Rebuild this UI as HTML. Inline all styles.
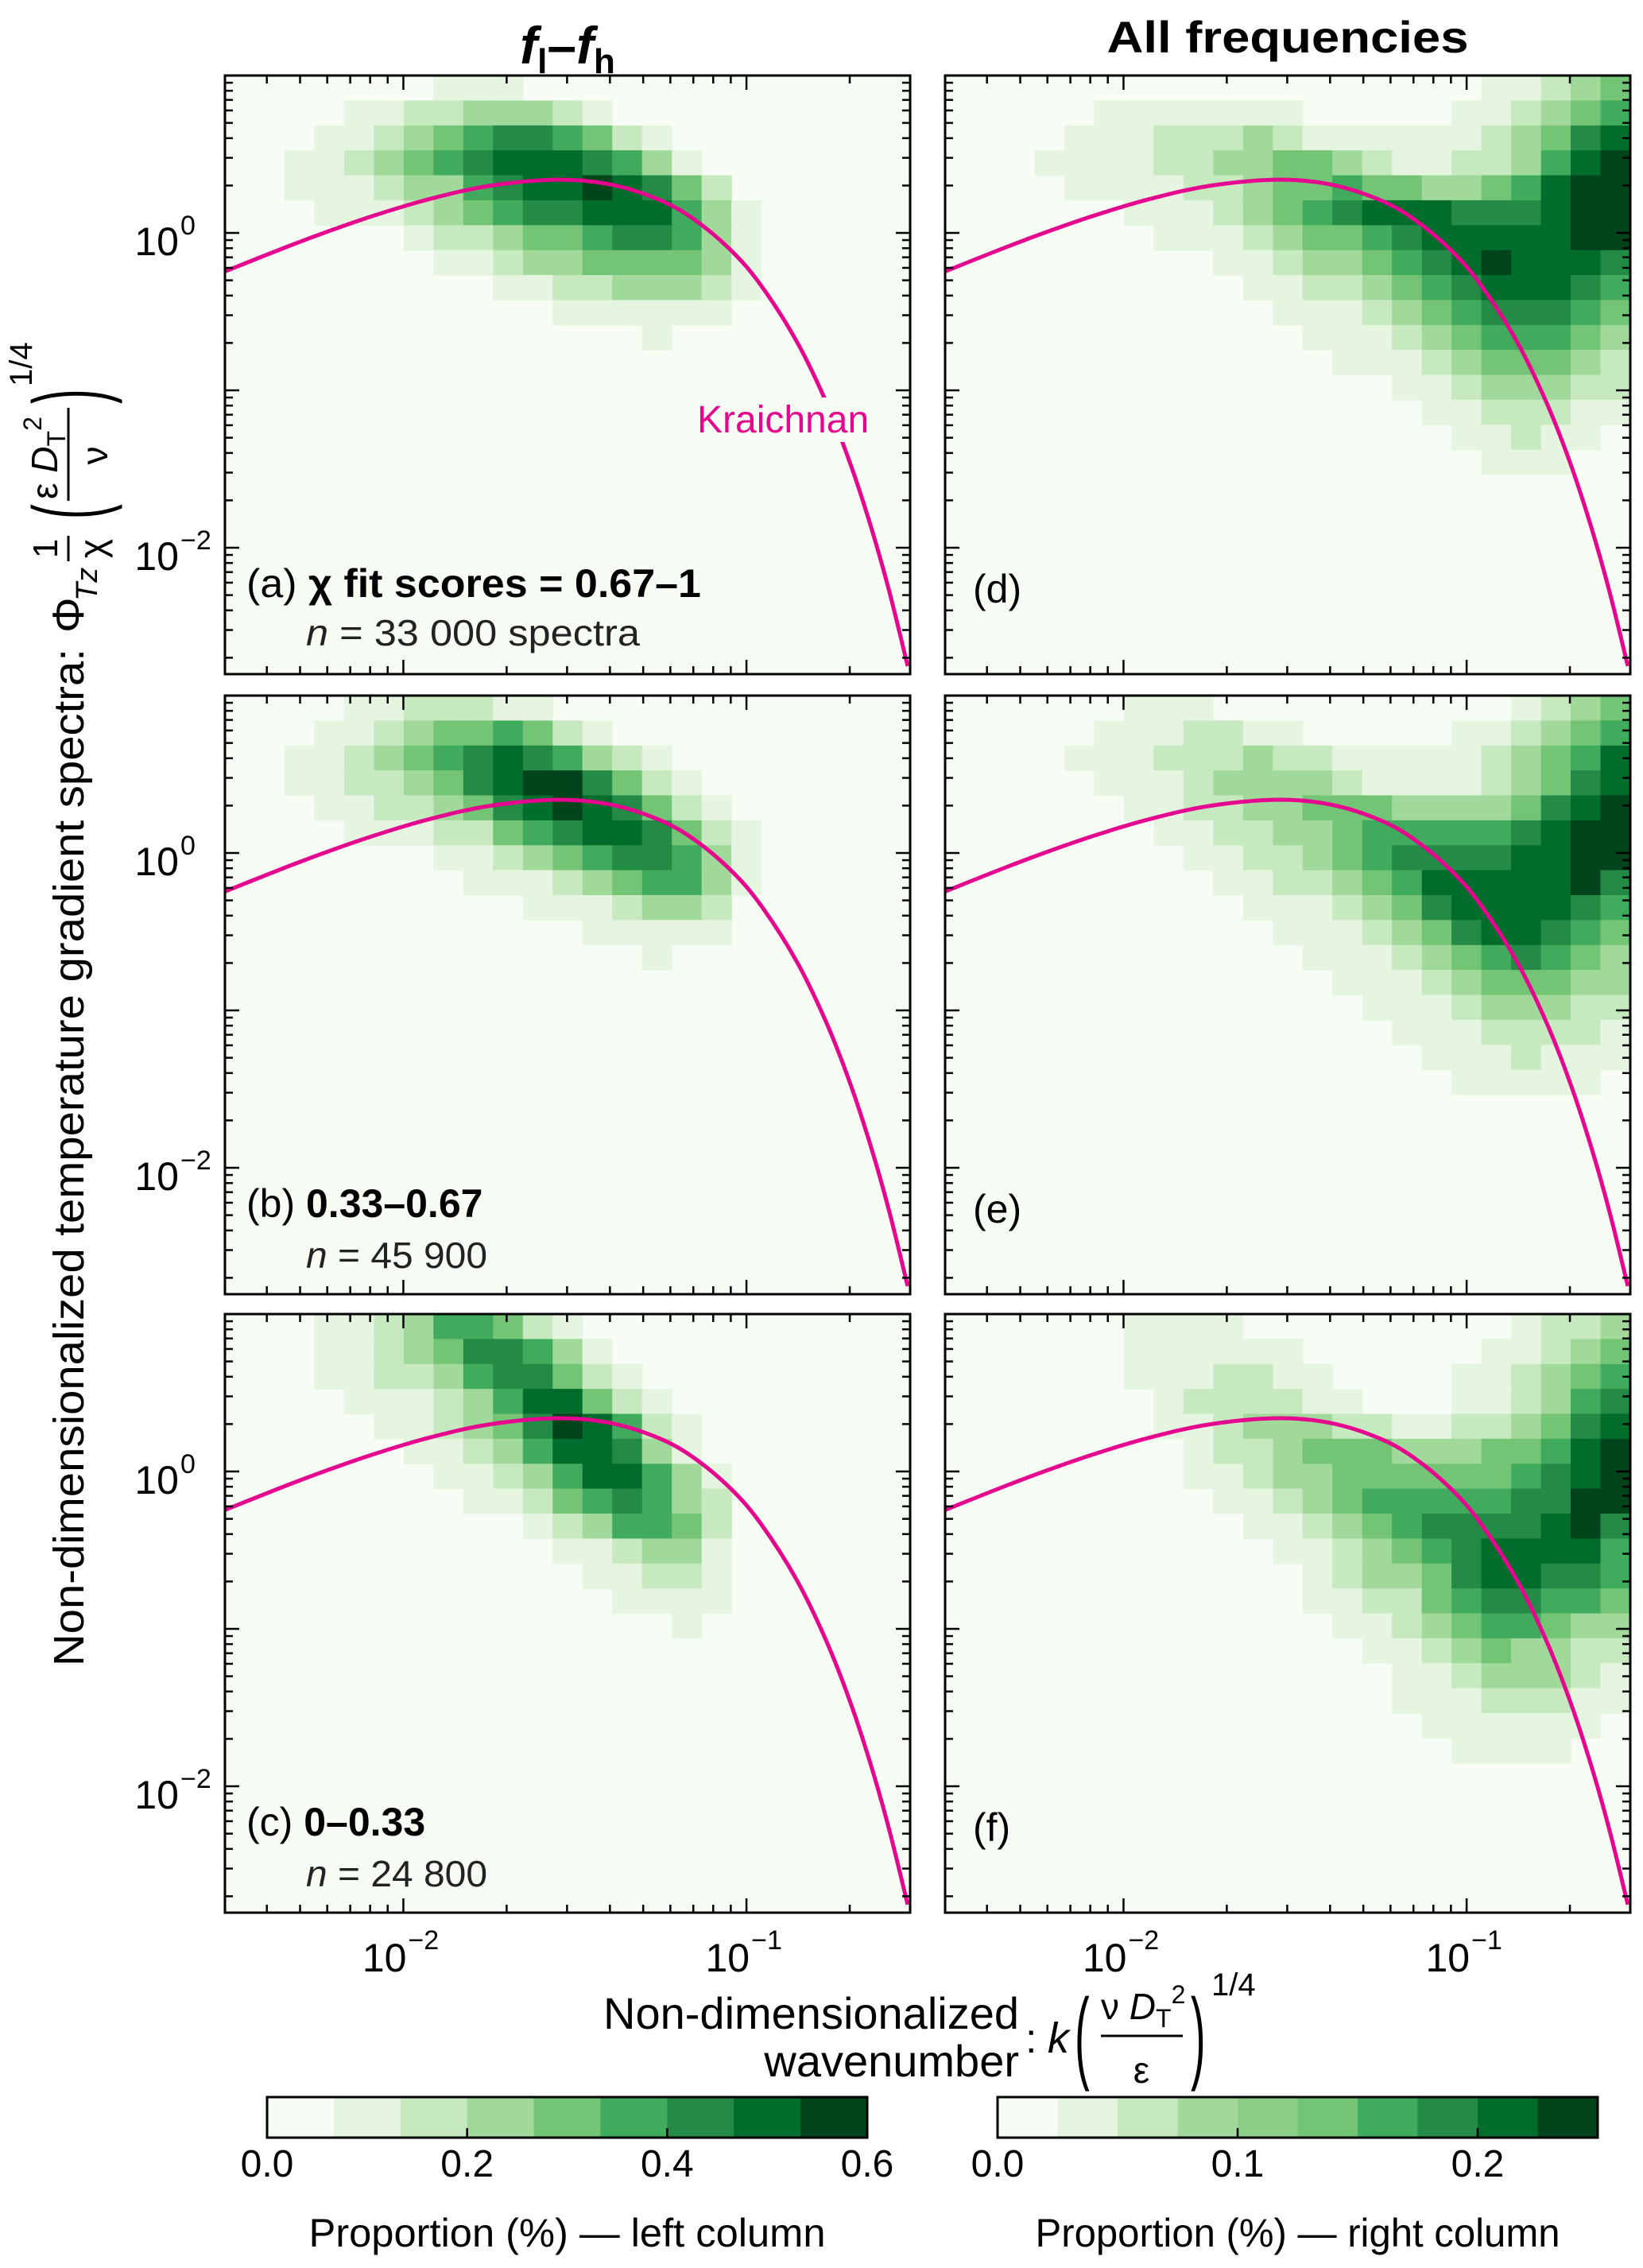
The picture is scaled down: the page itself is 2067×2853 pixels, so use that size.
<!DOCTYPE html>
<html><head><meta charset="utf-8"><style>
html,body{margin:0;padding:0;background:#fff;}
svg{display:block;font-family:"Liberation Sans",sans-serif;}
</style></head><body>
<svg id="fig" width="2067" height="2853" viewBox="0 0 2067 2853" xmlns="http://www.w3.org/2000/svg">
<rect width="2067" height="2853" fill="#fff"/>
<text x="714" y="80" text-anchor="middle" font-size="66" font-weight="bold" font-style="italic">f<tspan font-size="44" dy="12" font-style="normal">l</tspan><tspan dy="-12" font-style="normal">–</tspan>f<tspan font-size="44" dy="12" font-style="normal">h</tspan></text>
<text x="1620" y="66" text-anchor="middle" font-size="56" font-weight="bold" textLength="455" lengthAdjust="spacingAndGlyphs">All frequencies</text>
<g id="panels"></g>
<g transform="translate(0,1158) rotate(-90)">
<text x="-938" y="105" font-size="54" textLength="1280" lengthAdjust="spacingAndGlyphs">Non-dimensionalized temperature gradient spectra:</text>
<text x="362" y="105" font-size="56">Φ</text>
<text x="402" y="122" font-size="38" font-style="italic">Tz</text>
<text x="468" y="72" font-size="44" text-anchor="middle">1</text>
<line x1="452" y1="86" x2="484" y2="86" stroke="#000" stroke-width="3"/>
<text x="468" y="132" font-size="46" text-anchor="middle">χ</text>
<text transform="translate(505,128) scale(1,2.2)" font-size="56">(</text>
<text x="530" y="72" font-size="46">ε <tspan font-style="italic">D</tspan><tspan font-size="32" dy="10">T</tspan><tspan font-size="32" dy="-30">2</tspan></text>
<line x1="528" y1="86" x2="645" y2="86" stroke="#000" stroke-width="3"/>
<text x="585" y="135" font-size="46" text-anchor="middle">ν</text>
<text transform="translate(650,128) scale(1,2.2)" font-size="56">)</text>
<text x="672" y="40" font-size="40">1/4</text>
</g>
<g>
<text x="1282" y="2552" font-size="56" text-anchor="end">Non-dimensionalized</text>
<text x="1282" y="2612" font-size="56" text-anchor="end">wavenumber</text>
<text x="1290" y="2582" font-size="52">:</text>
<text x="1318" y="2582" font-size="54" font-style="italic">k</text>
<text transform="translate(1352,2604) scale(1,2.3)" font-size="56">(</text>
<text x="1385" y="2540" font-size="46">ν <tspan font-style="italic">D</tspan><tspan font-size="32" dy="10">T</tspan><tspan font-size="32" dy="-30">2</tspan></text>
<line x1="1385" y1="2561" x2="1488" y2="2561" stroke="#000" stroke-width="3"/>
<text x="1436" y="2620" font-size="46" text-anchor="middle">ε</text>
<text transform="translate(1498,2604) scale(1,2.3)" font-size="56">)</text>
<text x="1524" y="2510" font-size="40">1/4</text>
</g>
<g id="colorbars"></g>
</svg>
<script>
// ---- data ----
const xLogRange = [-2.52, -0.523];
const yLogRange = [-2.803, 1.0];
const nCols = 23;
const nRows = 24;
const greens = ["#f7fcf5","#e5f5e0","#c7e9c0","#a1d99b","#74c476","#41ab5d","#238b45","#006d2c","#00441b"];
const kraichnanK = [0.003,0.005,0.008,0.012,0.018,0.0282,0.04,0.055,0.07,0.09,0.11,0.14,0.17,0.2,0.23,0.26,0.295];
const kraichnanPhi = [0.566,0.879,1.265,1.647,1.997,2.179,2.034,1.643,1.229,0.777,0.467,0.205,0.086,0.035,0.01386,0.00541,0.00177];
const yTickLabels = [["10","0",0],["10","−2",-2]];
const xTickLabels = [["10","−2",-2],["10","−1",-1]];
const heatA = [
 [[7,"111"]],[[4,"112233321"]],[[3,"112345665421"]],[[2,"11234567776531"]],
 [[2,"111233567787642"]],[[3,"111234566777531"]],[[6,"122344566531"]],[[7,"11233444431"]],
 [[9,"112233321"]],[[11,"111111"]],[[14,"1"]]];
const heatB = [
 [[4,"1122211"]],[[3,"1123445421"]],[[2,"1123456765321"]],[[2,"11223467886421"]],
 [[3,"11223467876421"]],[[4,"11122456776421"]],[[7,"11234566531"]],[[8,"1112345531"]],
 [[10,"1112332"]],[[12,"11111"]],[[14,"1"]]];
const heatC = [
 [[3,"112355421"]],[[3,"1123466531"]],[[3,"11223566421"]],[[4,"11123577421"]],
 [[5,"11234687521"]],[[6,"1123577631"]],[[7,"1123577531"]],[[8,"112456532"]],
 [[10,"1235542"]],[[11,"112331"]],[[12,"11221"]],[[13,"1111"]],[[15,"1"]]];
const heatD = [
 [[18,"11234"]],[[5,"1111111"],[17,"112345"]],[[4,"1112223211111123467"]],
 [[3,"11112233443211223578"]],[[4,"1111223445443345788"]],[[6,"11123456777666788"]],
 [[7,"1112344567777788"]],[[9,"11233456787776"]],[[10,"1122345677765"]],
 [[11,"111234566654"]],[[12,"11123455543"]],[[13,"1112344432"]],[[15,"11233322"]],
 [[16,"1122211"]],[[17,"11211"]],[[18,"111"]]];
const heatE = [
 [[6,"111"],[19,"1234"]],[[5,"1112211"],[17,"112345"]],[[4,"1112223221111123457"]],
 [[5,"111233332111123467"]],[[6,"11223344433334678"]],[[7,"1122334555556788"]],
 [[8,"112234566667788"]],[[9,"11223457777786"]],[[10,"1112346777765"]],
 [[11,"111234677654"]],[[12,"11123456543"]],[[13,"1112344433"]],[[14,"111233322"]],
 [[15,"11122221"]],[[16,"1112111"]],[[17,"11111"]]];
const heatF = [
 [[6,"1111"],[19,"1223"]],[[6,"111111"],[18,"11234"]],[[6,"1112211"],[17,"112345"]],
 [[7,"1222211"],[17,"112356"]],[[7,"1123332211223467"]],[[8,"122344433344578"]],
 [[8,"112334444445678"]],[[9,"11234555556688"]],[[10,"1123456666786"]],
 [[11,"112345677775"]],[[12,"12334677665"]],[[12,"11224566554"]],[[13,"1123455433"]],
 [[14,"112343322"]],[[15,"11233321"]],[[15,"11122211"]],[[16,"111111"]],[[17,"1111"]]];
const cbLeftColors = ["#f7fcf5","#e5f5e0","#c7e9c0","#a1d99b","#74c476","#41ab5d","#238b45","#006d2c","#00441b"];
const cbRightColors = ["#f7fcf5","#e5f5e0","#c7e9c0","#a1d99b","#8ace88","#74c476","#41ab5d","#238b45","#006d2c","#00441b"];
const cbLeftTicks = ["0.0","0.2","0.4","0.6"];
const cbLeftTickVals = [0,0.2,0.4,0.6];
const cbLeftMax = 0.6;
const cbRightTicks = ["0.0","0.1","0.2"];
const cbRightTickVals = [0,0.1,0.2];
const cbRightMax = 0.25;

const NS = "http://www.w3.org/2000/svg";
function mk(tag, attrs, parent){const e=document.createElementNS(NS,tag);for(const k in attrs)e.setAttribute(k,attrs[k]);if(parent)parent.appendChild(e);return e;}

const W = 862, H = 753;
const panels = [
 {id:"a", x0:283, y0:95, heat:heatA, left:true, bottom:false},
 {id:"d", x0:1189, y0:95, heat:heatD, left:false, bottom:false},
 {id:"b", x0:283, y0:875, heat:heatB, left:true, bottom:false},
 {id:"e", x0:1189, y0:875, heat:heatE, left:false, bottom:false},
 {id:"c", x0:283, y0:1653, heat:heatC, left:true, bottom:true},
 {id:"f", x0:1189, y0:1653, heat:heatF, left:false, bottom:true}
];
const root = document.getElementById("panels");

panels.forEach(p=>{
  const xs = v => p.x0 + (v - xLogRange[0])/(xLogRange[1]-xLogRange[0])*W;
  const ys = v => p.y0 + (yLogRange[1] - v)/(yLogRange[1]-yLogRange[0])*H;
  const g = mk("g",{},root);
  
  
  const cp = mk("clipPath",{id:"clip"+p.id},g);
  mk("rect",{x:p.x0,y:p.y0,width:W,height:H},cp);
  const bg = mk("rect",{x:p.x0,y:p.y0,width:W,height:H,fill:greens[0]},g);
  
  
  const hg = mk("g",{"clip-path":"url(#clip"+p.id+")"},g);
  
  
  const dx = (xLogRange[1]-xLogRange[0])/nCols, dy = (yLogRange[1]-yLogRange[0])/nRows;
  p.heat.forEach((row,r)=>{
    row.forEach(seg=>{
      const start=seg[0], s=seg[1];
      for(let i=0;i<s.length;i++){
        const lv = +s[i]; if(!lv) continue;
        const c = start+i;
        const xa = xs(xLogRange[0]+c*dx), xb = xs(xLogRange[0]+(c+1)*dx);
        const ya = ys(yLogRange[1]-r*dy), yb = ys(yLogRange[1]-(r+1)*dy);
        const cell = mk("rect",{x:xa.toFixed(1),y:ya.toFixed(1),width:(xb-xa+0.6).toFixed(1),height:(yb-ya+0.6).toFixed(1),fill:greens[lv]},hg);
        
        
      }
    });
  });
  const pts = kraichnanK.map((k,i)=>[xs(Math.log10(k)), ys(Math.log10(kraichnanPhi[i]))]);
  let d = "M"+pts[0][0].toFixed(1)+","+pts[0][1].toFixed(1);
  for(let i=0;i<pts.length-1;i++){
    const p0=pts[Math.max(0,i-1)],p1=pts[i],p2=pts[i+1],p3=pts[Math.min(pts.length-1,i+2)];
    const c1=[p1[0]+(p2[0]-p0[0])/6,p1[1]+(p2[1]-p0[1])/6];
    const c2=[p2[0]-(p3[0]-p1[0])/6,p2[1]-(p3[1]-p1[1])/6];
    d+=" C"+c1[0].toFixed(1)+","+c1[1].toFixed(1)+" "+c2[0].toFixed(1)+","+c2[1].toFixed(1)+" "+p2[0].toFixed(1)+","+p2[1].toFixed(1);
  }
  const cg = mk("g",{"clip-path":"url(#clip"+p.id+")"},g);
  const curve = mk("path",{d:d,fill:"none",stroke:"#e6058f","stroke-width":5},cg);
  
  
  const tg = mk("g",{stroke:"#000","stroke-width":2.5},g);
  
  
  for(let dec=-3; dec<=0; dec++){
    for(let m=1;m<=9;m++){
      const v = Math.log10(m)+dec;
      if(v<xLogRange[0]||v>xLogRange[1]) continue;
      const x = xs(v), L = m===1?18:10;
      mk("line",{x1:x,y1:p.y0+H,x2:x,y2:p.y0+H-L},tg);
      mk("line",{x1:x,y1:p.y0,x2:x,y2:p.y0+L},tg);
    }
  }
  for(let dec=-3; dec<=1; dec++){
    for(let m=1;m<=9;m++){
      const v = Math.log10(m)+dec;
      if(v<yLogRange[0]||v>yLogRange[1]) continue;
      const y = ys(v), L = m===1?18:10;
      mk("line",{x1:p.x0,y1:y,x2:p.x0+L,y2:y},tg);
      mk("line",{x1:p.x0+W,y1:y,x2:p.x0+W-L,y2:y},tg);
    }
  }
  const fr = mk("rect",{x:p.x0,y:p.y0,width:W,height:H,fill:"none",stroke:"#000","stroke-width":3},g);
  
  
  if(p.left){
    yTickLabels.forEach(t=>{
      const y = ys(t[2]);
      const tx = mk("text",{x:p.x0-58,y:y+28,"font-size":50,"text-anchor":"end"},g);
      tx.textContent = t[0];
      
      
      const sp = mk("text",{x:p.x0-56,y:y+2,"font-size":34},g);
      sp.textContent = t[1];
      
      
    });
  }
  if(p.bottom){
    xTickLabels.forEach(t=>{
      const x = xs(t[2]);
      const tx = mk("text",{x:x+4,y:p.y0+H+74,"font-size":50,"text-anchor":"end"},g);
      tx.textContent = t[0];
      
      
      const sp = mk("text",{x:x+6,y:p.y0+H+46,"font-size":34},g);
      sp.textContent = t[1];
      
      
    });
  }
});

function addText(x,y,size,html,name,extra){
  const t = mk("text",Object.assign({x:x,y:y,"font-size":size},extra||{}),root);
  t.innerHTML = html;
  
  
  return t;
}
const gap = mk("rect",{x:872,y:500,width:258,height:56,fill:greens[0]},root);


addText(877,544,48,'Kraichnan','kraichnan-label',{fill:"#e6058f"});
addText(310,751,50,'(a) <tspan font-weight="bold">χ fit scores = 0.67–1</tspan>','panel-a-label',{textLength:572,lengthAdjust:"spacingAndGlyphs"});
addText(385,812,46,'<tspan font-style="italic">n</tspan> = 33 000 spectra','panel-a-count',{fill:"#222",textLength:420,lengthAdjust:"spacingAndGlyphs"});
addText(310,1531,50,'(b) <tspan font-weight="bold">0.33–0.67</tspan>','panel-b-label');
addText(385,1595,46,'<tspan font-style="italic">n</tspan> = 45 900','panel-b-count',{fill:"#222",textLength:228,lengthAdjust:"spacingAndGlyphs"});
addText(310,2309,50,'(c) <tspan font-weight="bold">0–0.33</tspan>','panel-c-label');
addText(385,2373,46,'<tspan font-style="italic">n</tspan> = 24 800','panel-c-count',{fill:"#222",textLength:228,lengthAdjust:"spacingAndGlyphs"});
addText(1224,758,50,'(d)','panel-d-label');
addText(1224,1538,50,'(e)','panel-e-label');
addText(1224,2316,50,'(f)','panel-f-label');

const cbRoot = document.getElementById("colorbars");
function colorbar(x0,x1,colors,ticks,tickVals,vmax,label,labelLen,name){
  const g = mk("g",{},cbRoot);
  
  
  const y0=2638, h=51, w=(x1-x0)/colors.length;
  colors.forEach((c,i)=>{
    const r = mk("rect",{x:x0+i*w,y:y0,width:w+0.5,height:h,fill:c},g);
    
    
  });
  mk("rect",{x:x0,y:y0,width:x1-x0,height:h,fill:"none",stroke:"#000","stroke-width":3},g);
  ticks.forEach((t,i)=>{
    const x = x0 + tickVals[i]/vmax*(x1-x0);
    mk("line",{x1:x,y1:y0+h,x2:x,y2:y0+h-12,stroke:"#000","stroke-width":2.5},g);
    const tx = mk("text",{x:x,y:2738,"font-size":48,"text-anchor":"middle"},g);
    tx.textContent = t;
    
    
  });
  const lb = mk("text",{x:(x0+x1)/2,y:2826,"font-size":50,"text-anchor":"middle",textLength:labelLen,lengthAdjust:"spacingAndGlyphs"},g);
  lb.textContent = label;
  
  
}
colorbar(336,1091,cbLeftColors,cbLeftTicks,cbLeftTickVals,cbLeftMax,"Proportion (%) — left column",650,"colorbar-left");
colorbar(1255,2010,cbRightColors,cbRightTicks,cbRightTickVals,cbRightMax,"Proportion (%) — right column",660,"colorbar-right");
</script>
</body></html>
